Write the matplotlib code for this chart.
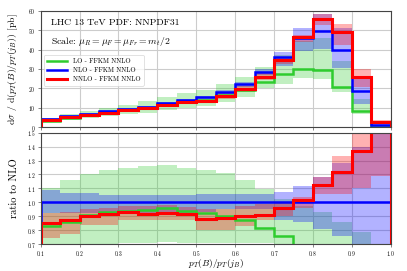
import numpy as np
import matplotlib
matplotlib.use("Agg")
import matplotlib.pyplot as plt

plt.rcParams['font.family'] = 'serif'
plt.rcParams['font.serif'] = ['cmr10', 'DejaVu Serif']
plt.rcParams['mathtext.fontset'] = 'cm'
plt.rcParams['axes.formatter.use_mathtext'] = True

# bin edges of p_T(B)/p_T(j_B)
edges = np.round(np.arange(0.10, 1.0001, 0.05), 2)

# central values [pb]
lo   = [3.4, 4.9, 6.25, 7.6, 8.75, 9.95, 11.7, 13.0, 14.15, 16.4, 19.2, 23.0, 27.3, 30.2, 29.4, 20.8, 8.2, 0.3]
nlo  = [4.1, 5.7, 6.9, 8.2, 9.3, 10.5, 12.2, 13.9, 15.3, 18.2, 22.0, 28.2, 36.2, 45.7, 49.6, 40.0, 18.7, 1.2]
nnlo = [3.5, 4.96, 6.2, 7.5, 8.65, 9.64, 11.3, 12.76, 13.5, 16.2, 19.8, 25.7, 34.6, 46.4, 55.8, 48.8, 25.6, 2.5]

# scale-variation envelopes, read as ratio to NLO central
lo_up   = [1.10, 1.16, 1.204, 1.232, 1.247, 1.259, 1.265, 1.25, 1.235, 1.213, 1.163, 1.098, 1.025, 0.975, 0.93, 0.858, 0.786, 0.5]
lo_dn   = [0.70, 0.68, 0.68, 0.68, 0.71, 0.71, 0.715, 0.71, 0.71, 0.71, 0.71, 0.71, 0.62, 0.55, 0.50, 0.45, 0.35, 0.2]
nlo_up  = [1.09, 1.07, 1.065, 1.055, 1.055, 1.055, 1.055, 1.055, 1.06, 1.062, 1.062, 1.06, 1.074, 1.117, 1.18, 1.28, 1.40, 1.8]
nlo_dn  = [0.92, 0.92, 0.92, 0.92, 0.92, 0.92, 0.92, 0.92, 0.93, 0.95, 0.95, 0.95, 0.87, 0.858, 0.81, 0.76, 0.65, 0.5]
nnlo_up = [0.92, 0.93, 0.955, 0.96, 0.975, 0.97, 0.98, 0.965, 0.95, 0.955, 0.97, 0.99, 1.0, 1.04, 1.18, 1.33, 1.6, 3.0]
nnlo_dn = [0.74, 0.77, 0.835, 0.84, 0.875, 0.875, 0.875, 0.87, 0.80, 0.80, 0.83, 0.87, 0.90, 0.96, 1.06, 1.06, 1.10, 1.19]

series = [
    ('LO - FFKM NNLO', lo, lo_up, lo_dn, '#2ecc2e', 'limegreen', 1.8),
    ('NLO - FFKM NNLO', nlo, nlo_up, nlo_dn, 'blue', 'blue', 1.8),
    ('NNLO - FFKM NNLO', nnlo, nnlo_up, nnlo_dn, 'red', 'red', 2.2),
]

nlo_arr = np.array(nlo)

fig = plt.figure(figsize=(4.07, 2.71), dpi=100)
ax1 = fig.add_axes([0.1, 0.531, 0.86, 0.4295])
ax2 = fig.add_axes([0.1, 0.0996, 0.86, 0.4104])

for ax in (ax1, ax2):
    ax.grid(True, color='#cccccc', lw=0.8)
    ax.set_axisbelow(True)
    for s in ax.spines.values():
        s.set_color('#444444')
        s.set_linewidth(0.8)
    ax.tick_params(labelsize=4, length=2, width=0.5, color='#555555', pad=1.5)
    ax.set_xlim(0.1, 1.0)
    ax.set_xticks(np.arange(0.1, 1.01, 0.1))

# bands
for name, c, up, dn, lc, fc, lw in series:
    up = np.array(up)
    dn = np.array(dn)
    ax1.stairs(up * nlo_arr, edges, baseline=dn * nlo_arr, fill=True, color=fc, alpha=0.3, lw=0)
    ax2.stairs(up, edges, baseline=dn, fill=True, color=fc, alpha=0.3, lw=0)

# central lines
for name, c, up, dn, lc, fc, lw in series:
    c = np.array(c)
    ax1.stairs(c, edges, color=lc, lw=lw, label=name)
    ax2.stairs(c / nlo_arr, edges, color=lc, lw=lw)

ax1.set_ylim(0, 60)
ax1.set_yticks(np.arange(0, 61, 10))
ax1.tick_params(labelbottom=False)
ax2.set_ylim(0.7, 1.5)
ax2.set_yticks(np.arange(0.7, 1.51, 0.1))

ax1.set_ylabel(r'd$\sigma$ / d($p_T(B)/p_T(j_B)$) [pb]', fontsize=7, labelpad=6)
ax2.set_ylabel('ratio to NLO', fontsize=7.5, labelpad=6)
ax2.set_xlabel(r'$p_T(B)/p_T(j_B)$', fontsize=6.8)
ax2.xaxis.set_label_coords(0.5, -0.115)

ax1.text(0.03, 0.93, 'LHC 13 TeV PDF: NNPDF31', transform=ax1.transAxes, fontsize=7, va='top')
ax1.text(0.03, 0.79, r'Scale: $\mu_R = \mu_F = \mu_{Fr} = m_t/2$', transform=ax1.transAxes, fontsize=7, va='top')

leg = ax1.legend(loc='upper left', bbox_to_anchor=(0.0, 0.65), fontsize=4.8, frameon=True,
                 handlelength=3, borderpad=0.5, labelspacing=0.5)
leg.get_frame().set_edgecolor('#cccccc')
leg.get_frame().set_linewidth(0.5)

fig.savefig('out.png', dpi=100)
